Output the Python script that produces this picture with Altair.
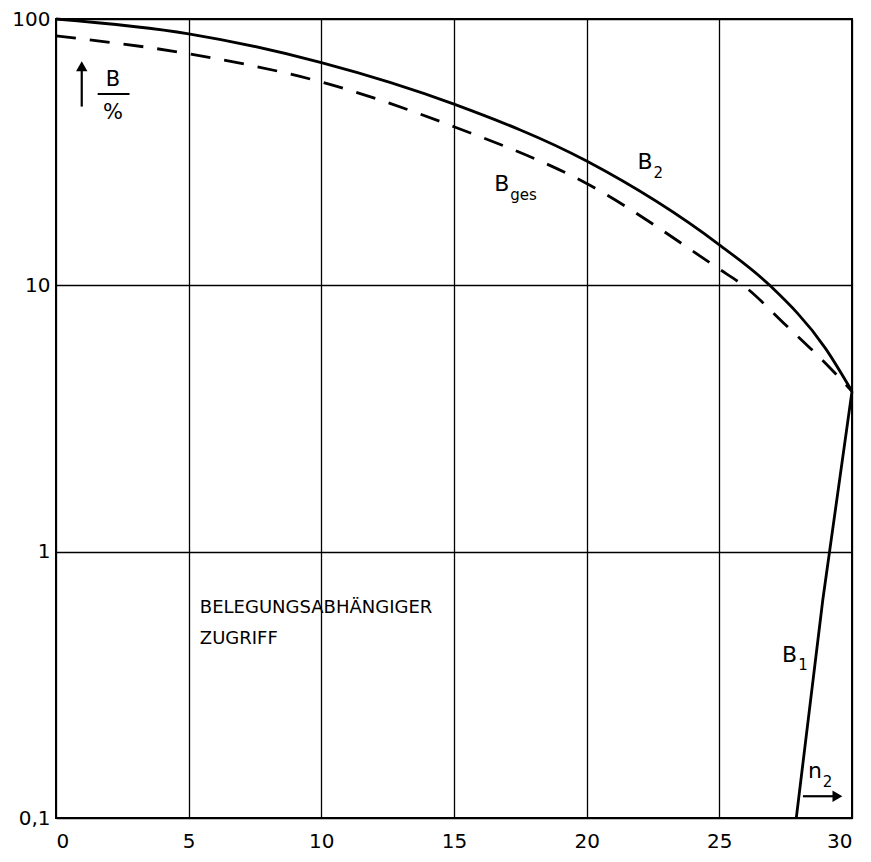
import altair as alt
import pandas as pd

# ---- data ----
b2_x = [0, 5, 10, 15, 20, 25, 26.9, 29, 30]
b2_y = [100, 88, 68.6, 47.9, 29.3, 14.2, 10, 5.8, 4]

bges_x = [0, 5, 10, 15, 20, 25, 25.9, 27.5, 29, 30]
bges_y = [86.4, 74, 58, 39.4, 24.1, 11.5, 10, 7.1, 5.1, 4]

b1_x = [27.9, 28.9, 30]
b1_y = [0.1, 0.66, 4]

x_ticks = [0, 5, 10, 15, 20, 25, 30]
y_ticks = [0.1, 1, 10, 100]

# annotation texts (data coordinates)
big_text = ["B", "B", "B", "n"]
big_x = [22.2, 16.8, 27.65, 28.6]
big_y = [29.1, 24.1, 0.41, 0.150]
sub_text = ["2", "ges", "1", "2"]
sub_x = [22.52, 17.12, 27.97, 28.9]
sub_y = [26.3, 21.8, 0.375, 0.137]

note_text = ["BELEGUNGSABHÄNGIGER", "ZUGRIFF"]
note_x = [5.42, 5.42]
note_y = [0.615, 0.47]

ylab_text = ["B", "%"]
ylab_x = [2.15, 2.15]
ylab_y = [59.0, 44.5]

FONT = "DejaVu Sans"

x_scale = alt.Scale(domain=[0, 30], nice=False, zero=False)
y_scale = alt.Scale(type="log", domain=[0.1, 100], nice=False)

X = alt.X("n2:Q", scale=x_scale,
          axis=alt.Axis(values=x_ticks, grid=True, ticks=False, domain=False,
                        labelPadding=13, labelFontSize=20, labelFont=FONT,
                        labelColor="black", title=None, gridColor="black",
                        gridWidth=1.3, gridOpacity=1))
Y = alt.Y("B:Q", scale=y_scale,
          axis=alt.Axis(values=y_ticks, grid=True, ticks=False, domain=False,
                        labelPadding=6, labelFontSize=20, labelFont=FONT,
                        labelColor="black", title=None, gridColor="black",
                        gridWidth=1.3, gridOpacity=1,
                        labelExpr="replace(format(datum.value, '~g'), '.', ',')"))

df_b2 = pd.DataFrame({"n2": b2_x, "B": b2_y})
df_bges = pd.DataFrame({"n2": bges_x, "B": bges_y})
df_b1 = pd.DataFrame({"n2": b1_x, "B": b1_y})

l_b2 = alt.Chart(df_b2).mark_line(color="black", strokeWidth=2.8,
                                  interpolate="monotone").encode(x=X, y=Y)
l_bges = alt.Chart(df_bges).mark_line(color="black", strokeWidth=2.8,
                                      strokeDash=[20, 14],
                                      interpolate="monotone").encode(x=X, y=Y)
l_b1 = alt.Chart(df_b1).mark_line(color="black", strokeWidth=2.8).encode(x=X, y=Y)

df_big = pd.DataFrame({"n2": big_x, "B": big_y, "t": big_text})
df_sub = pd.DataFrame({"n2": sub_x, "B": sub_y, "t": sub_text})
df_note = pd.DataFrame({"n2": note_x, "B": note_y, "t": note_text})
df_ylab = pd.DataFrame({"n2": ylab_x, "B": ylab_y, "t": ylab_text})

t_big = alt.Chart(df_big).mark_text(font=FONT, fontSize=22, color="black",
                                    align="center", baseline="middle").encode(
    x=X, y=Y, text="t:N")
t_sub = alt.Chart(df_sub).mark_text(font=FONT, fontSize=15, color="black",
                                    align="left", baseline="middle").encode(
    x=X, y=Y, text="t:N")
t_note = alt.Chart(df_note).mark_text(font=FONT, fontSize=18, color="black",
                                      align="left", baseline="middle").encode(
    x=X, y=Y, text="t:N")
t_ylab = alt.Chart(df_ylab).mark_text(font=FONT, fontSize=21, color="black",
                                      align="center", baseline="middle").encode(
    x=X, y=Y, text="t:N")

# fraction bar of B / %
df_frac = pd.DataFrame({"n2": [1.57], "n2b": [2.77], "B": [52.3]})
frac = alt.Chart(df_frac).mark_rule(color="black", strokeWidth=2).encode(
    x=X, x2="n2b:Q", y=Y)

# arrow up next to B/%
df_up = pd.DataFrame({"n2": [0.97], "B": [46.9], "B2": [64.0]})
up_shaft = alt.Chart(df_up).mark_rule(color="black", strokeWidth=2.2).encode(
    x=X, y=Y, y2="B2:Q")
df_up_head = pd.DataFrame({"n2": [0.97], "B": [66.5]})
up_head = alt.Chart(df_up_head).mark_point(shape="triangle-up", filled=True,
                                           color="black", size=130,
                                           opacity=1).encode(x=X, y=Y)

# arrow right under n2
df_rt = pd.DataFrame({"n2": [28.15], "n2b": [29.3], "B": [0.1207]})
rt_shaft = alt.Chart(df_rt).mark_rule(color="black", strokeWidth=2.2).encode(
    x=X, x2="n2b:Q", y=Y)
df_rt_head = pd.DataFrame({"n2": [29.45], "B": [0.1207]})
rt_head = alt.Chart(df_rt_head).mark_point(shape="triangle-right", filled=True,
                                           color="black", size=130,
                                           opacity=1).encode(x=X, y=Y)

chart = alt.layer(
    l_b2, l_bges, l_b1, t_big, t_sub, t_note, t_ylab, frac,
    up_shaft, up_head, rt_shaft, rt_head
).properties(
    width=796, height=799,
    autosize=alt.AutoSizeParams(type="none"),
    padding={"left": 48, "top": 11, "right": 11, "bottom": 35},
    background="white",
).configure_view(
    stroke="black", strokeWidth=2
)

chart.save("out.html", embed_options={"renderer": "svg", "actions": False})
